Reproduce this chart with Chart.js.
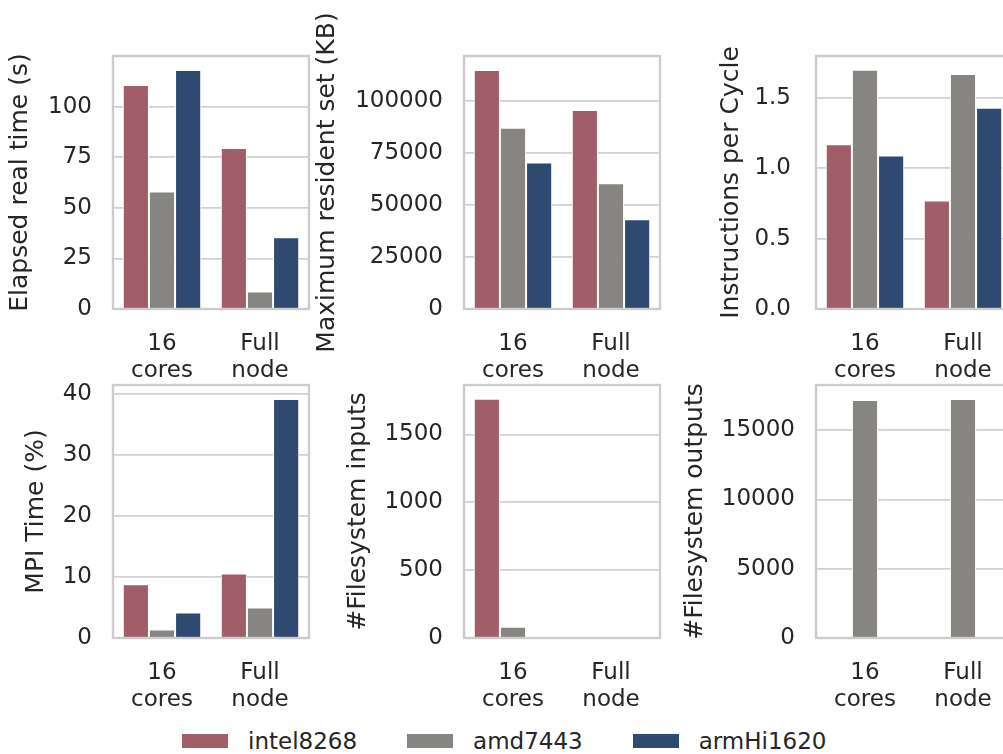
<!DOCTYPE html>
<html>
<head>
<meta charset="utf-8">
<script src="https://cdn.jsdelivr.net/npm/chart.js@4.4.1/dist/chart.umd.min.js"></script>
<style>
  html, body { margin: 0; padding: 0; background: #fff; overflow: hidden; }
  body { width: 1003px; height: 754px; position: relative; font-family: 'DejaVu Sans', sans-serif; color: #262626; }
  canvas { position: absolute; }
  #legend { position: absolute; left: 182px; top: 727px; display: flex; align-items: center; font-size: 23px; line-height: 28px; }
  .item { display: flex; align-items: center; margin-right: 50px; }
  .swatch { width: 46px; height: 14px; margin-right: 20px; }
</style>
</head>
<body>
<div id="legend"></div>
<script>
// categories and series
const categories = [['16', 'cores'], ['Full', 'node']]
const series = ['intel8268', 'amd7443', 'armHi1620']

// values per series: [16 cores, Full node], order intel, amd, arm
const elapsedTime = [[110.7, 79.5], [58.0, 8.7], [118.1, 35.5]]
const maxResident = [[114700, 95500], [87000, 60400], [70300, 43100]]
const instrPerCycle = [[1.17, 0.77], [1.70, 1.67], [1.09, 1.43]]
const mpiTime = [[8.8, 10.6], [1.4, 5.0], [4.2, 39.2]]
const fsInputs = [[1763, null], [83, null], [null, null]]
const fsOutputs = [[null, null], [17170, 17240], [null, null]]

// tick labels
const elapsedTicks = [0, 25, 50, 75, 100]
const residentTicks = [0, 25000, 50000, 75000, 100000]
const ipcTicks = [0, 0.5, 1.0, 1.5]
const ipcTickLabels = ['0.0', '0.5', '1.0', '1.5']
const mpiTicks = [0, 10, 20, 30, 40]
const fsInTicks = [0, 500, 1000, 1500]
const fsOutTicks = [0, 5000, 10000, 15000]

const colors = ['#a15e68', '#868581', '#2f4a70']
const textColor = '#262626'
const tickFont = { family: 'DejaVu Sans', size: 23, lineHeight: 1.15 }
const titleFont = { family: 'DejaVu Sans', size: 25, lineHeight: 1.2 }

// plot area: top row y 56..309, bottom row y 385..638
const rows = [
  { top: 0, padTop: 56, height: 384 },
  { top: 340, padTop: 45, height: 373 }
]

const panels = [
  { title: 'Elapsed real time (s)', values: elapsedTime, ticks: elapsedTicks, max: 125, plotLeft: 113, titleX: 20, row: 0 },
  { title: 'Maximum resident set (KB)', values: maxResident, ticks: residentTicks, max: 121400, plotLeft: 464, titleX: 327, row: 0 },
  { title: 'Instructions per Cycle', values: instrPerCycle, ticks: ipcTicks, labels: ipcTickLabels, max: 1.797, plotLeft: 816, titleX: 731.5, row: 0, tickPad: 25 },
  { title: 'MPI Time (%)', values: mpiTime, ticks: mpiTicks, max: 41.5, plotLeft: 113, titleX: 36.7, row: 1 },
  { title: '#Filesystem inputs', values: fsInputs, ticks: fsInTicks, max: 1864, plotLeft: 464, titleX: 358, row: 1 },
  { title: '#Filesystem outputs', values: fsOutputs, ticks: fsOutTicks, max: 18256, plotLeft: 816, titleX: 695, row: 1 }
]

// plot frame (all four spines)
const frame = {
  id: 'frame',
  afterDatasetsDraw(chart) {
    const { ctx, chartArea: a } = chart
    ctx.save()
    ctx.strokeStyle = '#cccccc'
    ctx.lineWidth = 2.4
    ctx.strokeRect(a.left, a.top, a.right - a.left, a.bottom - a.top)
    ctx.restore()
  }
}

function noPadding(s) {
  s.paddingTop = 0
  s.paddingBottom = 0
  s.paddingLeft = 0
  s.paddingRight = 0
}

function makePanel(p) {
  const row = rows[p.row]
  const half = titleFont.size * titleFont.lineHeight / 2
  const canvasLeft = Math.floor(p.titleX - half)
  const titlePad = p.titleX - half - canvasLeft
  const axisW = p.plotLeft - canvasLeft
  const canvas = document.createElement('canvas')
  canvas.width = axisW + 196 + 4
  canvas.height = row.height
  canvas.style.left = canvasLeft + 'px'
  canvas.style.top = row.top + 'px'
  document.body.appendChild(canvas)

  const tickLabels = p.labels || p.ticks.map(String)

  new Chart(canvas.getContext('2d'), {
    type: 'bar',
    data: {
      labels: categories,
      datasets: series.map((name, i) => ({
        label: name,
        data: p.values[i],
        backgroundColor: colors[i],
        borderColor: '#ffffff',
        borderWidth: 1,
        borderSkipped: 'start',
        categoryPercentage: 0.8,
        barPercentage: 1
      }))
    },
    options: {
      responsive: false,
      animation: false,
      layout: { padding: { top: row.padTop, right: 4, left: 0, bottom: 0 } },
      plugins: { legend: { display: false }, tooltip: { enabled: false } },
      scales: {
        x: {
          grid: { display: false, drawTicks: false },
          border: { display: false },
          ticks: { color: textColor, font: tickFont, padding: 22, maxRotation: 0, autoSkip: false },
          afterFit: s => { s.height = 75; noPadding(s) }
        },
        y: {
          min: 0,
          max: p.max,
          grid: { color: '#d2d2d2', lineWidth: 1.8, drawTicks: false },
          border: { display: false },
          afterBuildTicks: s => { s.ticks = p.ticks.map(v => ({ value: v })) },
          ticks: {
            color: textColor,
            font: tickFont,
            padding: p.tickPad || 21,
            callback: (value, index) => tickLabels[index]
          },
          title: { display: true, text: p.title, color: textColor, font: titleFont, padding: { top: titlePad, bottom: 0 } },
          afterFit: s => { s.width = axisW; noPadding(s) }
        }
      }
    },
    plugins: [frame]
  })
}

panels.forEach(makePanel)

// shared legend
const legend = document.getElementById('legend')
series.forEach((name, i) => {
  const item = document.createElement('div')
  item.className = 'item'
  item.innerHTML = '<div class="swatch" style="background:' + colors[i] + '"></div><span>' + name + '</span>'
  legend.appendChild(item)
})
</script>
</body>
</html>
